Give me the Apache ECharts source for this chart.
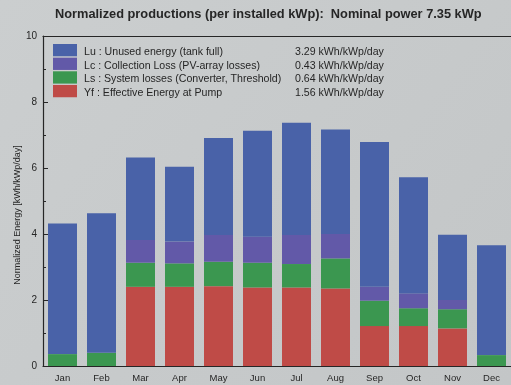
<!DOCTYPE html>
<html>
<head>
<meta charset="utf-8">
<title>Normalized productions</title>
<script src="https://cdn.jsdelivr.net/npm/echarts@6/dist/echarts.min.js"></script>
<style>
  html, body { margin: 0; padding: 0; overflow: hidden; background: #c7cacb; }
  #chart { width: 511px; height: 385px; }
</style>
</head>
<body>
<div id="chart"></div>
<script>
// Monthly normalized energy per installed kWp, stacked (kWh/kWp/day)
const months = ['Jan', 'Feb', 'Mar', 'Apr', 'May', 'Jun', 'Jul', 'Aug', 'Sep', 'Oct', 'Nov', 'Dec'];
const yfEffective = [0, 0, 2.40, 2.40, 2.42, 2.38, 2.38, 2.35, 1.21, 1.21, 1.14, 0];
const lsSystem    = [0.36, 0.40, 0.73, 0.71, 0.74, 0.75, 0.71, 0.91, 0.77, 0.54, 0.58, 0.33];
const lcCollect   = [0, 0, 0.69, 0.66, 0.81, 0.79, 0.88, 0.74, 0.42, 0.45, 0.28, 0];
const luUnused    = [3.96, 4.23, 2.50, 2.27, 2.94, 3.21, 3.40, 3.17, 4.39, 3.52, 1.98, 3.33];

// Legend rows (top to bottom) with their yearly averages
const legendNames = [
  'Lu : Unused energy (tank full)',
  'Lc : Collection Loss (PV-array losses)',
  'Ls : System losses (Converter, Threshold)',
  'Yf : Effective Energy at Pump'
];
const legendValues = ['3.29 kWh/kWp/day', '0.43 kWh/kWp/day', '0.64 kWh/kWp/day', '1.56 kWh/kWp/day'];
const yTicks = [0, 2, 4, 6, 8, 10];

const colors = {
  yf: '#bf4b47',
  ls: '#3b9750',
  lc: '#6259a8',
  lu: '#4962a8'
};

const chart = echarts.init(document.getElementById('chart'), null, { renderer: 'canvas' });
const font = '"Liberation Sans", Arial, sans-serif';
const ink = '#262626';

function bar(name, data, color) {
  return {
    name: name,
    type: 'bar',
    stack: 'energy',
    data: data,
    barWidth: 29,
    itemStyle: { color: color },
    emphasis: { disabled: true }
  };
}

const valueOf = {};
legendNames.forEach((n, i) => { valueOf[n] = legendValues[i]; });

chart.setOption({
  animation: false,
  backgroundColor: {
    type: 'linear', x: 0, y: 0, x2: 1, y2: 1,
    colorStops: [
      { offset: 0, color: '#cbcecf' },
      { offset: 1, color: '#c3c6c7' }
    ]
  },
  title: {
    text: 'Normalized productions (per installed kWp):  Nominal power 7.35 kWp',
    left: 55,
    top: 8,
    padding: 0,
    textStyle: { fontFamily: font, fontSize: 12.8, fontWeight: 'bold', color: ink }
  },
  legend: {
    orient: 'vertical',
    left: 53,
    top: 44,
    padding: 0,
    itemWidth: 24,
    itemHeight: 12.3,
    itemGap: 0,
    icon: 'rect',
    selectedMode: false,
    data: legendNames,
    formatter: name => '{n|' + name + '}{v|' + valueOf[name] + '}',
    textStyle: {
      fontFamily: font,
      fontSize: 10.6,
      color: ink,
      padding: [4, 0, 0, 2],
      rich: {
        n: { width: 211, fontFamily: font, fontSize: 10.6, color: ink },
        v: { fontFamily: font, fontSize: 10.6, color: ink }
      }
    }
  },
  grid: { left: 43, right: -5, top: 36, bottom: 19 },
  xAxis: [
    {
      type: 'category',
      data: months,
      position: 'bottom',
      axisLine: { lineStyle: { color: ink, width: 1.2 } },
      axisTick: { inside: true, length: 4, lineStyle: { color: ink } },
      axisLabel: { fontFamily: font, fontSize: 9.5, color: ink, margin: 7 }
    },
    {
      type: 'category',
      data: months,
      position: 'top',
      axisLine: { show: true, lineStyle: { color: ink, width: 1.2 } },
      axisTick: { inside: true, length: 4, alignWithLabel: true, lineStyle: { color: ink } },
      axisLabel: { show: false }
    }
  ],
  yAxis: {
    type: 'value',
    min: yTicks[0],
    max: yTicks[yTicks.length - 1],
    interval: 2,
    name: 'Normalized Energy [kWh/kWp/day]',
    nameLocation: 'middle',
    nameGap: 21,
    nameMoveOverlap: false,
    nameTextStyle: { fontFamily: font, fontSize: 9, color: ink, padding: [0, 28, 0, 0] },
    axisLine: { show: true, lineStyle: { color: ink, width: 1.2 } },
    axisTick: { show: true, inside: true, length: 5, lineStyle: { color: ink } },
    minorTick: { show: true, splitNumber: 2, length: 3, lineStyle: { color: ink } },
    splitLine: { show: false },
    axisLabel: { fontFamily: font, fontSize: 10, color: ink, margin: 6 }
  },
  series: [
    bar(legendNames[3], yfEffective, colors.yf),
    bar(legendNames[2], lsSystem, colors.ls),
    bar(legendNames[1], lcCollect, colors.lc),
    bar(legendNames[0], luUnused, colors.lu)
  ]
});
</script>
</body>
</html>
